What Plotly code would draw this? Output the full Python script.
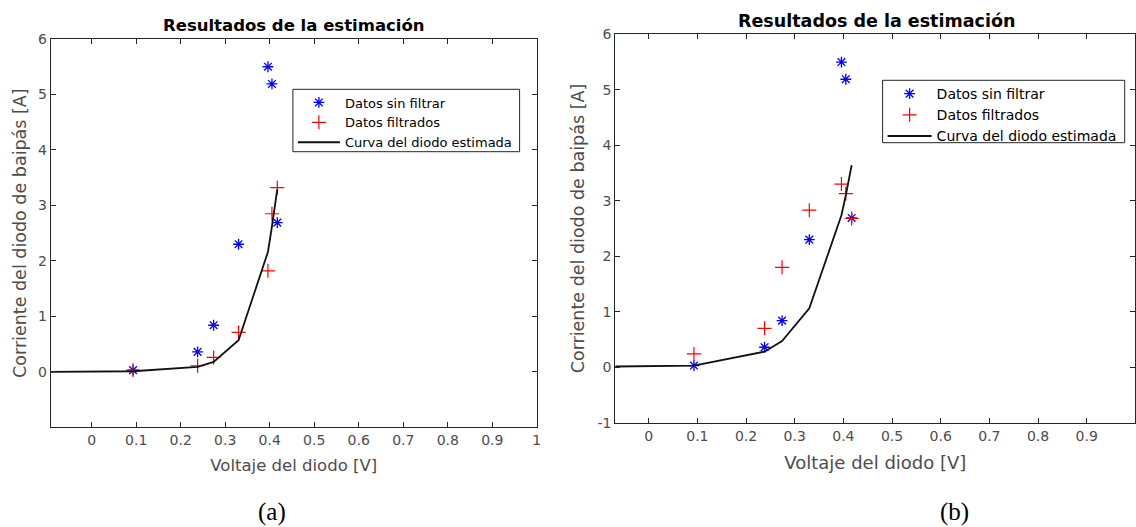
import plotly.graph_objects as go

# ---------------- data ----------------
volt = [0.093, 0.238, 0.274, 0.330, 0.396, 0.405, 0.417]

# (a)
raw_a = [0.03, 0.36, 0.84, 2.30, 5.50, 5.19, 2.69]
filt_a = [0.03, 0.11, 0.26, 0.71, 1.82, 2.85, 3.32]
curve_x = [-0.10, 0.093, 0.238, 0.274, 0.330, 0.396, 0.405, 0.417]
curve_a = [0.00, 0.01, 0.09, 0.18, 0.57, 2.16, 2.62, 3.29]

# (b)
raw_b = [0.03, 0.36, 0.84, 2.30, 5.50, 5.19, 2.69]
filt_b = [0.24, 0.70, 1.80, 2.83, 3.30, 3.13, 2.68]
curve_b = [0.01, 0.03, 0.28, 0.47, 1.06, 2.74, 3.10, 3.64]

x_ticks = [0, 0.1, 0.2, 0.3, 0.4, 0.5, 0.6, 0.7, 0.8, 0.9, 1.0]
x_ticklabels = ["0", "0.1", "0.2", "0.3", "0.4", "0.5", "0.6", "0.7", "0.8", "0.9", "1"]
y_ticks_a = [0, 1, 2, 3, 4, 5, 6]
y_ticks_b = [-1, 0, 1, 2, 3, 4, 5, 6]

title_text = "Resultados de la estimación"
xlabel = "Voltaje del diodo [V]"
ylabel = "Corriente del diodo de baipás [A]"
names = ["Datos sin filtrar", "Datos filtrados", "Curva del diodo estimada"]

W, H = 1136, 527
FONT = "DejaVu Sans"
AXC = "#262626"
TICKC = "#4d4d4d"

fig = go.Figure()

def add_panel(raw, filt, curve, xa, ya, legend):
    fig.add_trace(go.Scatter(
        x=volt, y=raw, mode="markers", name=names[0], xaxis=xa, yaxis=ya,
        legend=legend,
        marker=dict(symbol="asterisk-open", size=9, color="#0000ff",
                    line=dict(color="#0000ff", width=1.3))))
    fig.add_trace(go.Scatter(
        x=volt, y=filt, mode="markers", name=names[1], xaxis=xa, yaxis=ya,
        legend=legend,
        marker=dict(symbol="cross-thin-open", size=10, color="#ff0000",
                    line=dict(color="#ff0000", width=1.2))))
    fig.add_trace(go.Scatter(
        x=curve_x, y=curve, mode="lines", name=names[2], xaxis=xa, yaxis=ya,
        legend=legend, line=dict(color="#111111", width=1.8)))

add_panel(raw_a, filt_a, curve_a, "x", "y", "legend")
add_panel(raw_b, filt_b, curve_b, "x2", "y2", "legend2")

def px_x(p):
    return p / W

def px_y(p):
    return 1 - p / H

axis_common = dict(
    showgrid=False, zeroline=False, showline=True, linecolor=AXC, linewidth=1,
    mirror="ticks", ticks="inside", ticklen=5, tickcolor=AXC, tickwidth=1,
    tickfont=dict(family=FONT, size=14, color=TICKC), automargin=False,
)

fig.update_layout(
    width=W, height=H,
    margin=dict(l=0, r=0, t=0, b=0, autoexpand=False),
    paper_bgcolor="white", plot_bgcolor="white",
    font=dict(family=FONT, color=AXC),
    xaxis=dict(domain=[px_x(50.7), px_x(536.8)], range=[-0.092, 1.0], anchor="y",
               tickvals=x_ticks, ticktext=x_ticklabels,
               title=dict(text=xlabel, font=dict(family=FONT, size=16.5, color=TICKC), standoff=12),
               **axis_common),
    yaxis=dict(domain=[px_y(427.3), px_y(39)], range=[-1, 6], anchor="x",
               tickvals=y_ticks_a, ticktext=[str(v) for v in y_ticks_a],
               title=dict(text=ylabel, font=dict(family=FONT, size=17.5, color=TICKC), standoff=6),
               **axis_common),
    xaxis2=dict(domain=[px_x(615.3), px_x(1135.4)], range=[-0.0686, 1.0], anchor="y2",
                tickvals=x_ticks, ticktext=x_ticklabels,
                title=dict(text=xlabel, font=dict(family=FONT, size=18, color=TICKC), standoff=13),
                **axis_common),
    yaxis2=dict(domain=[px_y(422.7), px_y(34.3)], range=[-1, 6], anchor="x2",
                tickvals=y_ticks_b, ticktext=[str(v) for v in y_ticks_b],
                title=dict(text=ylabel, font=dict(family=FONT, size=17.5, color=TICKC), standoff=8),
                **axis_common),
    legend=dict(x=px_x(292.9), y=px_y(87.5), xanchor="left", yanchor="top",
                borderwidth=0, bgcolor="rgba(0,0,0,0)",
                font=dict(family=FONT, size=13, color="#000000"),
                tracegroupgap=0, itemwidth=42),
    legend2=dict(x=px_x(882.6), y=px_y(78), xanchor="left", yanchor="top",
                 borderwidth=0, bgcolor="rgba(0,0,0,0)",
                 font=dict(family=FONT, size=14, color="#000000"),
                 tracegroupgap=0, itemwidth=44),
    showlegend=True,
)

# legend frames
fig.add_shape(type="rect", xref="paper", yref="paper",
              x0=px_x(292.9), x1=px_x(519.6), y0=px_y(151.7), y1=px_y(89.3),
              line=dict(color="#262626", width=1), fillcolor="white", layer="above")
fig.add_shape(type="rect", xref="paper", yref="paper",
              x0=px_x(882.6), x1=px_x(1124.7), y0=px_y(142.7), y1=px_y(80.3),
              line=dict(color="#262626", width=1), fillcolor="white", layer="above")

fig.add_annotation(text="<b>" + title_text + "</b>", xref="paper", yref="paper",
                   x=px_x(293.7), y=px_y(25), xanchor="center", yanchor="middle",
                   showarrow=False, font=dict(family=FONT, size=16.5, color="#000000"))
fig.add_annotation(text="<b>" + title_text + "</b>", xref="paper", yref="paper",
                   x=px_x(876), y=px_y(21), xanchor="center", yanchor="middle",
                   showarrow=False, font=dict(family=FONT, size=17.5, color="#000000"))
fig.add_annotation(text="(a)", xref="paper", yref="paper",
                   x=px_x(272), y=px_y(511.7), xanchor="center", yanchor="middle",
                   showarrow=False, font=dict(family="Liberation Serif", size=25, color="#000000"))
fig.add_annotation(text="(b)", xref="paper", yref="paper",
                   x=px_x(954), y=px_y(511.7), xanchor="center", yanchor="middle",
                   showarrow=False, font=dict(family="Liberation Serif", size=25, color="#000000"))

fig.write_html("out.html", config={"displayModeBar": False},
               post_script="document.body.style.margin='0';document.body.style.padding='0';")
